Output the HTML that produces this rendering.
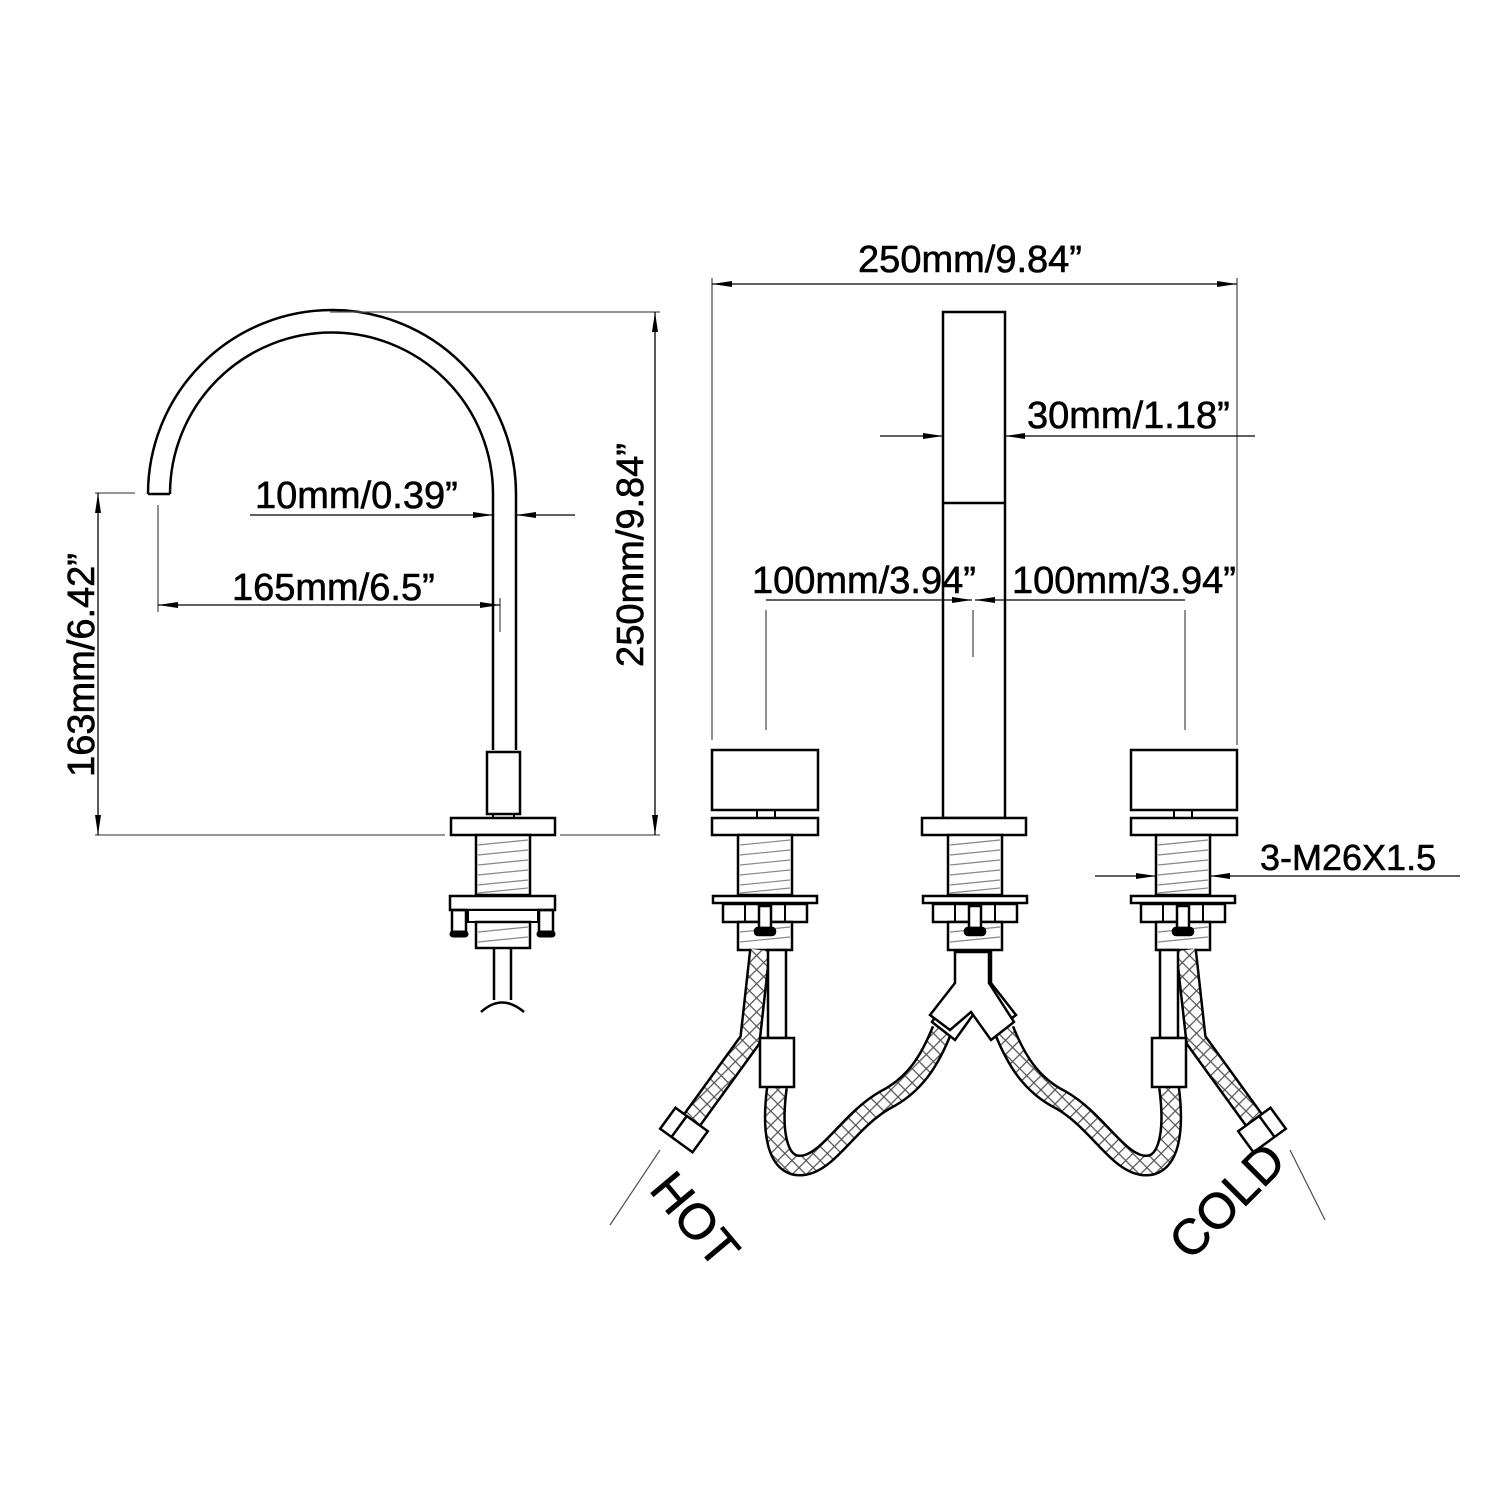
<!DOCTYPE html>
<html><head><style>html,body{margin:0;padding:0;background:#fff}svg{display:block}</style></head>
<body>
<svg width="1500" height="1500" viewBox="0 0 1500 1500" xmlns="http://www.w3.org/2000/svg" font-family="Liberation Sans, Arial, sans-serif">
<defs>
<pattern id="hx" width="10" height="10" patternUnits="userSpaceOnUse" patternTransform="rotate(45)">
<rect width="10" height="10" fill="#fff"/><path d="M0 0.5H10M0.5 0V10" stroke="#555" stroke-width="1.5"/></pattern>
<marker id="ar" viewBox="0 0 20 8" refX="20" refY="4" markerWidth="20" markerHeight="8" markerUnits="userSpaceOnUse" orient="auto-start-reverse"><path d="M0 1L20 4L0 7z" fill="#000"/></marker>
<g id="valve" fill="#fff" stroke="#000" stroke-width="2.5">
<rect x="-27" y="835" width="54" height="60"/>
<g stroke="#888" stroke-width="1.2"><path d="M-25 845L25 840M-25 855L25 850M-25 865L25 860M-25 875L25 870M-25 885L25 880M-25 893L25 888"/></g>
<rect x="-52" y="896" width="104" height="7"/>
<rect x="-42" y="904" width="84" height="18"/>
<path d="M-20 904V922M0 904V922M20 904V922" stroke-width="2"/>
<rect x="-27" y="922" width="54" height="28"/>
<g stroke="#888" stroke-width="1.2"><path d="M-25 932L25 927M-25 942L25 937"/></g>
<rect x="-6" y="906" width="12" height="22"/>
<rect x="-10" y="928" width="20" height="7" rx="3" fill="#000"/>
</g>
<g id="hoses" fill="none">
<path d="M760 950 L750 1040 L692 1120" stroke="#000" stroke-width="22"/>
<path d="M760 950 L750 1040 L692 1120" stroke="url(#hx)" stroke-width="17"/>
<path d="M777 1087 C770 1140 780 1170 805 1165 C830 1160 850 1120 885 1100 C915 1085 930 1060 942 1030" stroke="#000" stroke-width="22"/>
<path d="M777 1087 C770 1140 780 1170 805 1165 C830 1160 850 1120 885 1100 C915 1085 930 1060 942 1030" stroke="url(#hx)" stroke-width="17"/>
<rect x="768" y="950" width="18" height="88" fill="#fff" stroke="#000" stroke-width="2.5"/>
<rect x="760" y="1038" width="34" height="49" fill="#fff" stroke="#000" stroke-width="2.5"/>
<g transform="translate(684,1130) rotate(36)" fill="#fff" stroke="#000" stroke-width="2.5"><rect x="-20" y="-13" width="40" height="26"/><path d="M-6 -13V13"/></g>
<path d="M957 952H991V983L1016 1015L996 1030L975 1012L955 1040L932 1022L957 983Z" fill="#fff" stroke="#000" stroke-width="2.5"/>
</g>
</defs>
<g stroke="#000" fill="none">
<path d="M148 494A184 184 0 0 1 516 494V750M170 494A161.5 161.5 0 0 1 493 494V750M148 494H170" stroke-width="2.5" fill="none"/>
<rect x="487" y="752" width="33" height="62" fill="#fff" stroke-width="2.5"/>
<rect x="493" y="814" width="21" height="4" stroke-width="2"/>
<rect x="451" y="818" width="104" height="17" fill="#fff" stroke-width="2.5"/>
<rect x="476" y="835" width="54" height="60" fill="#fff" stroke-width="2.5"/>
<g stroke="#888" stroke-width="1.2"><path d="M478 845L528 840M478 855L528 850M478 865L528 860M478 875L528 870M478 885L528 880M478 893L528 888M478 932L528 927M478 942L528 937"/></g>
<rect x="450" y="896" width="105" height="14" fill="#fff" stroke-width="2.5"/>
<rect x="468" y="910" width="70" height="12" fill="#fff" stroke-width="2"/>
<rect x="476" y="922" width="54" height="26" stroke-width="2.5"/>
<rect x="452" y="910" width="14" height="22" stroke-width="2.5"/><rect x="539" y="910" width="14" height="22" stroke-width="2.5"/>
<rect x="450" y="931" width="18" height="6" rx="3" fill="#000"/><rect x="537" y="931" width="18" height="6" rx="3" fill="#000"/>
<path d="M494 948V1000M511 948V1000M481 1012Q502 993 524 1012" stroke-width="2.5"/>
<g stroke-width="1.3" stroke="#555">
<path d="M95 493H135M95 835H445M560 835H660M330 312H660M158 505V612M500 598V632"/>
<path d="M98 493V835" stroke="#000" marker-start="url(#ar)" marker-end="url(#ar)"/>
<path d="M655 312V835" stroke="#000" marker-start="url(#ar)" marker-end="url(#ar)"/>
<path d="M158 605H500" stroke="#000" marker-start="url(#ar)" marker-end="url(#ar)"/>
<path d="M250 515H493" stroke="#000" marker-end="url(#ar)"/>
<path d="M575 515H516" stroke="#000" marker-end="url(#ar)"/>
</g>
<rect x="943" y="312" width="62" height="506" fill="#fff" stroke-width="2.5"/>
<path d="M943 503H1005" stroke-width="2.5"/>
<rect x="712" y="750" width="106" height="60" fill="#fff" stroke-width="2.5"/>
<rect x="1131" y="750" width="106" height="60" fill="#fff" stroke-width="2.5"/>
<rect x="712" y="818" width="106" height="17" fill="#fff" stroke-width="2.5"/>
<rect x="922" y="818" width="104" height="17" fill="#fff" stroke-width="2.5"/>
<rect x="1131" y="818" width="106" height="17" fill="#fff" stroke-width="2.5"/>
<path d="M757 810V818M775 810V818M1174 810V818M1192 810V818" stroke-width="2"/>
</g>
<use href="#valve" x="765"/><use href="#valve" x="975"/><use href="#valve" x="1183"/>
<use href="#hoses"/>
<use href="#hoses" transform="translate(1946,0) scale(-1,1)"/>
<g stroke-width="1.3" stroke="#555" fill="none">
<path d="M712 278V740M1237 278V745M766 610V730M1185 610V730M973 610V657"/>
<path d="M712 284H1237" stroke="#000" marker-start="url(#ar)" marker-end="url(#ar)"/>
<path d="M880 436H943" stroke="#000" marker-end="url(#ar)"/>
<path d="M1255 436H1005" stroke="#000" marker-end="url(#ar)"/>
<path d="M766 600H972" stroke="#000" marker-end="url(#ar)"/>
<path d="M1185 600H975" stroke="#000" marker-end="url(#ar)"/>
<path d="M1095 876H1156" stroke="#000" marker-end="url(#ar)"/>
<path d="M1460 876H1210" stroke="#000" marker-end="url(#ar)"/>
<path d="M660 1150L610 1225M1290 1150L1325 1220"/>
</g>
<g font-size="38" fill="#000" stroke="#000" stroke-width="0.6">
<text x="970" y="272" text-anchor="middle">250mm/9.84”</text>
<text x="1027" y="428">30mm/1.18”</text>
<text x="752" y="593">100mm/3.94”</text>
<text x="1012" y="593">100mm/3.94”</text>
<text x="1260" y="870" font-size="36">3-M26X1.5</text>
<text x="255" y="508">10mm/0.39”</text>
<text x="232" y="600">165mm/6.5”</text>
<text transform="translate(94,665) rotate(-90)" text-anchor="middle">163mm/6.42”</text>
<text transform="translate(643,555) rotate(-90)" text-anchor="middle">250mm/9.84”</text>
<text transform="translate(648,1190) rotate(50)" font-size="50">HOT</text>
<text transform="translate(1190,1262) rotate(-45)" font-size="50">COLD</text>
</g>
</svg>
</body></html>
